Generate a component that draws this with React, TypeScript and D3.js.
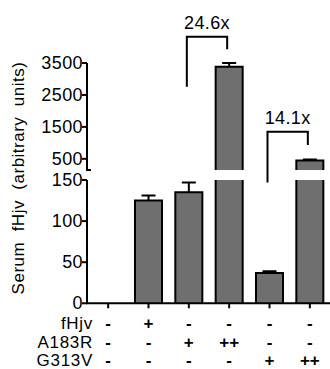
import React from "react";
import * as d3 from "d3";

// ---- data ----
const groups = ["g1", "g2", "g3", "g4", "g5", "g6"];
const rowNames = ["fHjv", "A183R", "G313V"];
const fHjvRow = ["-", "+", "-", "-", "-", "-"];
const a183rRow = ["-", "-", "+", "++", "-", "-"];
const g313vRow = ["-", "-", "-", "-", "+", "++"];
const means = [0, 125, 135, 3380, 37, 450];
const errors = [0, 6, 12, 120, 2, 30];
const lowerTicks = [0, 50, 100, 150];
const upperTicks = [500, 1500, 2500, 3500];
const foldLabels = ["24.6x", "14.1x"];
const bracketFrom = [2, 4];
const bracketTo = [3, 5];
const bracketTop = [4320, 1350];
const bracketLeftFoot = [2760, 147];
const bracketRightFoot = [3930, 930];
const breakValue = 150;
const yTitle = "Serum  fHjv  (arbitrary  units)";

const W = 330;
const H = 369;
const FONT = "'Liberation Sans', Arial, Helvetica, sans-serif";
const FILL = "#6f6f6f";

export default function App() {
  const axisX = 87;
  const x = d3
    .scaleBand<string>()
    .domain(groups)
    .range([88, 330])
    .paddingInner(0.33)
    .paddingOuter(0.165);
  const yLow = d3.scaleLinear().domain([0, breakValue]).range([303.3, 180]);
  const yUp = d3.scaleLinear().domain([breakValue, 3500]).range([170, 63]);
  const yOf = (v: number) => (v <= breakValue ? yLow(v) : yUp(v));
  const cx = (i: number) => (x(groups[i]) as number) + x.bandwidth() / 2;
  const bw = x.bandwidth();
  const rows = [fHjvRow, a183rRow, g313vRow];
  const rowBaselines = [329, 347.5, 365.5];

  const textStyle: React.CSSProperties = {
    fontFamily: FONT,
    fontSize: 18,
    letterSpacing: 0.4,
  };
  const rowStyle: React.CSSProperties = { ...textStyle, fontSize: 17, letterSpacing: 0.7 };

  return (
    <svg
      width={W}
      height={H}
      style={{ position: "absolute", left: 0, top: 0, background: "#fff" }}
    >
      {/* bars */}
      {means.map((m, i) => {
        if (m <= 0) return null;
        const x0 = x(groups[i]) as number;
        const x1 = x0 + bw;
        const segs: React.ReactNode[] = [];
        const lowTop = yLow(Math.min(m, breakValue));
        const lowBase = yLow(0);
        segs.push(
          <rect key="lf" x={x0} y={lowTop} width={bw} height={lowBase - lowTop} fill={FILL} />
        );
        const sideLow =
          m <= breakValue
            ? `M${x0},${lowBase}V${lowTop}H${x1}V${lowBase}`
            : `M${x0},${lowBase}V${lowTop}M${x1},${lowTop}V${lowBase}`;
        segs.push(<path key="ls" d={sideLow} fill="none" stroke="#000" strokeWidth={2} />);
        if (m > breakValue) {
          const upTop = yUp(m);
          const upBase = yUp(breakValue);
          segs.push(
            <rect key="uf" x={x0} y={upTop} width={bw} height={upBase - upTop} fill={FILL} />
          );
          segs.push(
            <path
              key="us"
              d={`M${x0},${upBase}V${upTop}H${x1}V${upBase}`}
              fill="none"
              stroke="#000"
              strokeWidth={2}
            />
          );
        }
        // error bar
        const e = errors[i];
        if (e > 0) {
          const yt = yOf(m);
          const ye = yOf(m + e);
          const c = cx(i);
          segs.push(
            <path
              key="err"
              d={`M${c},${yt}V${ye}M${c - 7},${ye}H${c + 7}`}
              fill="none"
              stroke="#000"
              strokeWidth={2}
            />
          );
        }
        return <g key={i}>{segs}</g>;
      })}

      {/* y axes */}
      <g stroke="#000" strokeWidth={2} fill="none">
        <path d={`M${axisX},${yUp(3500)}V${yUp(breakValue)}H${axisX + 4}`} />
        <path d={`M${axisX},${yLow(breakValue)}V${yLow(0)}H${W}`} />
        {upperTicks.map((t) => (
          <path key={"ut" + t} d={`M${axisX - 5},${yUp(t)}H${axisX}`} />
        ))}
        {lowerTicks.map((t) => (
          <path key={"lt" + t} d={`M${axisX - 5},${yLow(t)}H${axisX}`} />
        ))}
        {groups.map((g, i) => (
          <path key={"xt" + g} d={`M${cx(i)},${yLow(0)}V${yLow(0) + 5}`} />
        ))}
      </g>
      <g style={textStyle} textAnchor="end" fill="#000">
        {upperTicks.map((t) => (
          <text key={"ul" + t} x={axisX - 4} y={yUp(t)} dy="0.36em">
            {t}
          </text>
        ))}
        {lowerTicks.map((t) => (
          <text key={"ll" + t} x={axisX - 4} y={yLow(t)} dy="0.34em">
            {t}
          </text>
        ))}
      </g>

      {/* y title */}
      <text
        transform={`translate(24,178) rotate(-90)`}
        textAnchor="middle"
        style={{ ...textStyle, fontSize: 17, letterSpacing: 0.5, whiteSpace: "pre" }}
        xmlSpace="preserve"
      >
        {yTitle}
      </text>

      {/* brackets */}
      {foldLabels.map((lab, k) => {
        const xa = cx(bracketFrom[k]) - 2;
        const xb = cx(bracketTo[k]) - 2;
        const yt = yOf(bracketTop[k]);
        return (
          <g key={lab}>
            <path
              d={`M${xa},${yOf(bracketLeftFoot[k])}V${yt}H${xb}V${yOf(bracketRightFoot[k])}`}
              fill="none"
              stroke="#000"
              strokeWidth={2}
            />
            <text
              x={(xa + xb) / 2}
              y={yt - 8}
              textAnchor="middle"
              style={textStyle}
            >
              {lab}
            </text>
          </g>
        );
      })}

      {/* condition table */}
      {rowNames.map((r, ri) => (
        <g key={r}>
          <text x={93} y={rowBaselines[ri]} textAnchor="end" style={rowStyle}>
            {r}
          </text>
          {rows[ri].map((s, gi) => (
            <text
              key={gi}
              x={cx(gi)}
              y={rowBaselines[ri]}
              textAnchor="middle"
              style={{ ...rowStyle, fontWeight: 700, letterSpacing: 0 }}
            >
              {s}
            </text>
          ))}
        </g>
      ))}
    </svg>
  );
}
